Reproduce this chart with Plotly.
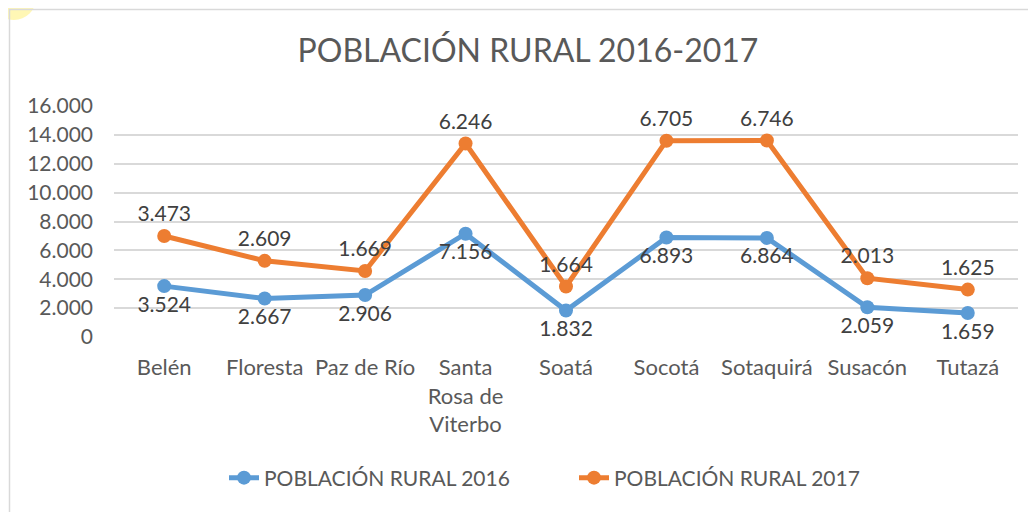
import plotly.graph_objects as go

categories = ["Belén", "Floresta", "Paz de Río", "Santa<br>Rosa de<br>Viterbo", "Soatá",
              "Socotá", "Sotaquirá", "Susacón", "Tutazá"]
rural_2016 = [3524, 2667, 2906, 7156, 1832, 6893, 6864, 2059, 1659]
rural_2017 = [3473, 2609, 1669, 6246, 1664, 6705, 6746, 2013, 1625]
tick_vals = [0, 2000, 4000, 6000, 8000, 10000, 12000, 14000, 16000]
tick_text = ["0", "2.000", "4.000", "6.000", "8.000", "10.000", "12.000", "14.000", "16.000"]

def fmt(v):
    return f"{v:,}".replace(",", ".")

stacked_2017 = [a + b for a, b in zip(rural_2016, rural_2017)]

FONT = "Lato, 'Open Sans', sans-serif"
GREY = "#595959"

fig = go.Figure()
fig.add_trace(go.Scatter(
    x=categories, y=rural_2016, name="POBLACIÓN RURAL 2016",
    mode="lines+markers+text", text=[fmt(v) for v in rural_2016],
    textposition="bottom center", textfont=dict(size=21, color="#404040", family=FONT),
    line=dict(color="#5B9BD5", width=5), marker=dict(size=14, color="#5B9BD5"),
    cliponaxis=False))
fig.add_trace(go.Scatter(
    x=categories, y=stacked_2017, name="POBLACIÓN RURAL 2017",
    mode="lines+markers+text", text=[fmt(v) for v in rural_2017],
    textposition="top center", textfont=dict(size=21, color="#404040", family=FONT),
    line=dict(color="#ED7D31", width=5), marker=dict(size=14, color="#ED7D31"),
    cliponaxis=False))

# page body adds an 8px offset; work in reference pixel coordinates
OX, OY = 8, 8
W, H = 1036 - OX, 512 - OY
PL, PR, PT, PB = 114, 1018, 106, 337  # plot area in reference pixels
L, R, T, B = PL - OX, W - (PR - OX), PT - OY, H - (PB - OY)
pw, ph = PR - PL, PB - PT

def px_x(p):
    return (p - PL) / pw

def px_y(p):
    return (PB - p) / ph

fig.update_layout(
    width=W, height=H,
    margin=dict(l=L, r=R, t=T, b=B, autoexpand=False),
    paper_bgcolor="white", plot_bgcolor="white",
    font=dict(family=FONT, color=GREY, size=21),
    title=dict(text="POBLACIÓN RURAL 2016-2017", x=px_x(528), xanchor="center", xref="paper",
               y=1 - (51 - OY) / H, yanchor="middle",
               font=dict(size=32, color=GREY, family=FONT)),
    xaxis=dict(showgrid=False, showline=False, ticks="", tickfont=dict(size=22, color=GREY),
               range=[-0.5, 8.5], automargin=False, ticklabelstandoff=15),
    yaxis=dict(range=[0, 16000], tickvals=tick_vals, ticktext=tick_text,
               showgrid=True, gridcolor="#d9d9d9", gridwidth=1.5, zeroline=False,
               tickfont=dict(size=21, color=GREY), ticklabelstandoff=20, automargin=False),
    legend=dict(orientation="h", x=px_x(574), xanchor="center", y=px_y(478),
                yanchor="middle", font=dict(size=21, color=GREY),
                entrywidth=305, traceorder="normal"),
    showlegend=True,
    shapes=[
        dict(type="circle", xref="paper", yref="paper",
             x0=px_x(-8), x1=px_x(36), y0=px_y(20), y1=px_y(-24),
             fillcolor="rgba(255,240,120,0.55)", line=dict(width=0), layer="below"),
        dict(type="rect", xref="paper", yref="paper",
             x0=px_x(9.5), x1=px_x(1100), y0=px_y(600), y1=px_y(9.5),
             line=dict(color="#d9d9d9", width=1.5), fillcolor="rgba(0,0,0,0)",
             layer="below"),
    ],
)

fig.write_html("out.html")
